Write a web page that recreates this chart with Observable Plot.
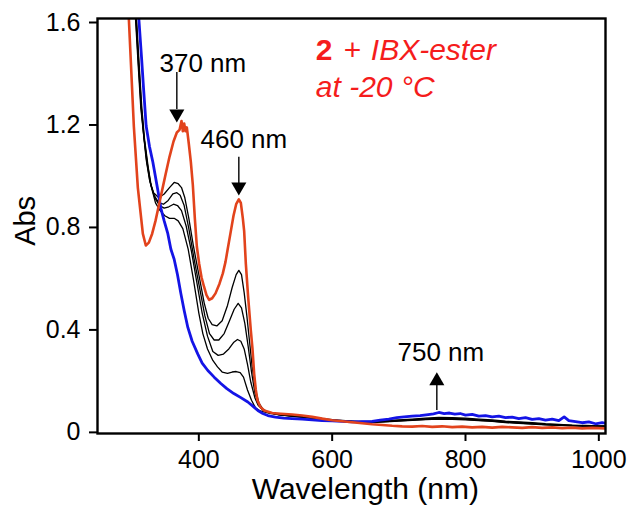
<!DOCTYPE html>
<html><head><meta charset="utf-8">
<script src="https://cdn.jsdelivr.net/npm/d3@7"></script>
<script src="https://cdn.jsdelivr.net/npm/@observablehq/plot@0.6"></script>
<style>html,body{margin:0;padding:0;background:#fff}svg{display:block}</style>
</head><body><div id="chart"></div>
<script>
// ---- axis ticks ----
const xTicks = [400, 600, 800, 1000];
const xTickLabels = ["400", "600", "800", "1000"];
const yTicks = [0, 0.4, 0.8, 1.2, 1.6];
const yTickLabels = ["0", "0.4", "0.8", "1.2", "1.6"];

// ---- red spectrum (2 + IBX-ester, final) ----
const redWl  = [290, 295, 302.5, 308.5, 316, 320.5, 325, 330, 335, 340, 345, 350, 356, 362, 367, 371, 374, 376, 378, 380, 382, 385, 388, 391, 394, 397, 400.5, 404, 408, 411.5, 415.5, 420, 425, 431, 436, 440, 443, 448, 452, 456, 460, 463, 466, 468, 470.5, 474, 478, 480.5, 483, 485.5, 488, 492, 498, 510, 523, 540, 555, 570, 585, 600, 615, 630, 645, 660, 675, 690, 705, 720, 735, 750, 765, 780, 795, 810, 825, 840, 855, 870, 885, 900, 915, 930, 945, 960, 975, 990, 1010];
const redAbs = [1.85, 1.6, 1.18, 0.94, 0.76, 0.714, 0.725, 0.76, 0.81, 0.87, 0.93, 0.99, 1.06, 1.12, 1.155, 1.165, 1.2, 1.16, 1.19, 1.16, 1.175, 1.11, 1.04, 0.95, 0.82, 0.71, 0.643, 0.59, 0.551, 0.52, 0.502, 0.508, 0.527, 0.565, 0.605, 0.65, 0.695, 0.77, 0.83, 0.875, 0.894, 0.88, 0.82, 0.77, 0.643, 0.512, 0.382, 0.31, 0.213, 0.15, 0.109, 0.085, 0.07, 0.06, 0.057, 0.054, 0.05, 0.045, 0.038, 0.032, 0.028, 0.024, 0.02, 0.016, 0.013, 0.01, 0.008, 0.007, 0.009, 0.006, 0.008, 0.005, 0.007, 0.004, 0.006, 0.003, 0.006, 0.004, 0.002, 0.005, 0.002, 0.004, 0.001, 0.003, 0.0, 0.002, 0.0];

// ---- blue spectrum (start) ----
const blueWl  = [305, 310, 314, 317, 321, 326, 331, 338.5, 343, 348, 353.5, 358, 363, 368, 373, 378, 383.5, 390, 398.5, 405, 413.5, 423, 433, 442, 452.5, 463, 473.5, 481, 488.5, 496, 503.5, 515, 527.5, 540, 555, 570, 585, 600, 615, 630, 645, 660, 672, 685, 697, 708, 720, 732, 744, 752, 760, 768, 776, 784, 792, 800, 810, 820, 830, 840, 850, 860, 870, 880, 890, 900, 910, 920, 930, 940, 948, 955, 965, 975, 985, 995, 1005, 1010];
const blueAbs = [1.8, 1.6, 1.45, 1.33, 1.18, 1.1, 1.04, 0.93, 0.86, 0.81, 0.76, 0.7, 0.66, 0.6, 0.527, 0.46, 0.394, 0.34, 0.29, 0.255, 0.226, 0.2, 0.175, 0.155, 0.136, 0.12, 0.103, 0.087, 0.07, 0.058, 0.05, 0.044, 0.04, 0.038, 0.036, 0.033, 0.03, 0.029, 0.027, 0.025, 0.026, 0.027, 0.032, 0.036, 0.042, 0.045, 0.048, 0.05, 0.054, 0.057, 0.062, 0.058, 0.06, 0.056, 0.058, 0.052, 0.055, 0.048, 0.05, 0.045, 0.048, 0.042, 0.044, 0.038, 0.042, 0.035, 0.038, 0.032, 0.036, 0.03, 0.045, 0.03, 0.026, 0.022, 0.025, 0.018, 0.022, 0.02];

// ---- black intermediate spectra ----
const black1Wl  = [300, 305, 309, 313, 317, 321, 326, 332, 340, 348, 356, 363, 369, 374, 379, 385, 392, 400, 408, 414, 420, 427, 435, 443, 450, 456, 460, 464, 468, 472, 476, 480, 485, 490, 496, 505, 520, 540, 560, 580, 600, 620, 640, 660, 680, 700, 720, 740, 760, 780, 800, 820, 840, 860, 880, 900, 920, 940, 960, 980, 1000, 1010];
const black1Abs = [1.85, 1.6, 1.42, 1.25, 1.15, 1.05, 0.97, 0.92, 0.9, 0.915, 0.94, 0.96, 0.955, 0.94, 0.9, 0.82, 0.71, 0.6, 0.49, 0.43, 0.405, 0.4, 0.42, 0.48, 0.55, 0.6, 0.617, 0.6, 0.53, 0.44, 0.34, 0.24, 0.15, 0.1, 0.075, 0.062, 0.055, 0.05, 0.046, 0.04, 0.034, 0.03, 0.027, 0.027, 0.03, 0.033, 0.036, 0.04, 0.043, 0.042, 0.04, 0.036, 0.033, 0.028, 0.025, 0.022, 0.018, 0.016, 0.013, 0.012, 0.01, 0.01];
const black2Wl  = [300, 305.5, 309.5, 313.5, 317.5, 322, 327, 333, 340, 347, 354, 361, 367, 372, 378, 385, 393, 401, 409, 416, 423, 430, 438, 446, 453, 459, 464, 469, 474, 479, 484, 489, 495, 505, 520, 540, 560, 580, 600, 620, 640, 660, 680, 700, 720, 740, 760, 780, 800, 820, 840, 860, 880, 900, 920, 940, 960, 980, 1000, 1010];
const black2Abs = [1.85, 1.6, 1.42, 1.25, 1.14, 1.04, 0.96, 0.91, 0.88, 0.875, 0.89, 0.915, 0.92, 0.91, 0.87, 0.78, 0.66, 0.55, 0.44, 0.37, 0.345, 0.345, 0.37, 0.42, 0.465, 0.488, 0.47, 0.41, 0.32, 0.22, 0.14, 0.095, 0.075, 0.062, 0.054, 0.049, 0.044, 0.038, 0.032, 0.028, 0.025, 0.026, 0.028, 0.031, 0.034, 0.037, 0.04, 0.039, 0.037, 0.033, 0.03, 0.026, 0.023, 0.02, 0.016, 0.014, 0.012, 0.01, 0.009, 0.009];
const black3Wl  = [300, 306, 310, 314, 318, 323, 328, 334, 341, 348, 355, 362, 368, 374, 381, 389, 397, 405, 413, 421, 429, 437, 445, 452, 458, 463, 468, 473, 478, 484, 489, 496, 505, 520, 540, 560, 580, 600, 620, 640, 660, 680, 700, 720, 740, 760, 780, 800, 820, 840, 860, 880, 900, 920, 940, 960, 980, 1000, 1010];
const black3Abs = [1.85, 1.6, 1.42, 1.25, 1.13, 1.03, 0.95, 0.9, 0.87, 0.86, 0.865, 0.875, 0.87, 0.85, 0.79, 0.69, 0.57, 0.45, 0.36, 0.3, 0.285, 0.29, 0.31, 0.335, 0.347, 0.34, 0.31, 0.25, 0.18, 0.12, 0.09, 0.072, 0.062, 0.054, 0.048, 0.043, 0.037, 0.031, 0.027, 0.024, 0.024, 0.026, 0.029, 0.032, 0.035, 0.038, 0.037, 0.035, 0.031, 0.028, 0.024, 0.021, 0.018, 0.015, 0.013, 0.011, 0.009, 0.008, 0.008];
const black4Wl  = [300, 306.5, 310.5, 314.5, 318.5, 324, 329, 335, 342, 349, 356, 363, 369, 376, 384, 392, 400, 406, 413, 421, 428, 435, 443, 450, 456, 462, 467, 473, 479, 485, 492, 505, 520, 540, 560, 580, 600, 620, 640, 660, 680, 700, 720, 740, 760, 780, 800, 820, 840, 860, 880, 900, 920, 940, 960, 980, 1000, 1010];
const black4Abs = [1.85, 1.6, 1.42, 1.25, 1.13, 1.02, 0.94, 0.88, 0.85, 0.83, 0.82, 0.82, 0.81, 0.78, 0.7, 0.58, 0.45, 0.37, 0.31, 0.265, 0.24, 0.22, 0.215, 0.22, 0.222, 0.218, 0.2, 0.15, 0.11, 0.08, 0.068, 0.06, 0.053, 0.047, 0.042, 0.036, 0.03, 0.026, 0.023, 0.023, 0.025, 0.028, 0.031, 0.034, 0.036, 0.035, 0.033, 0.03, 0.027, 0.023, 0.02, 0.017, 0.014, 0.012, 0.01, 0.009, 0.008, 0.008];

// ---- annotations (data coordinates) ----
const peakLabels = ["370 nm", "460 nm", "750 nm"];
const peakLabelX = [406, 467.5, 763];
const peakLabelY = [1.424, 1.126, 0.295];
const arrowX     = [367, 460, 757];
const arrowFrom  = [1.389, 1.058, 0.07];
const arrowTo    = [1.245, 0.952, 0.18];
const arrowHeadY = [1.228, 0.943, 0.185];
const arrowDir   = [180, 180, 0];

const titleParts = ["2", "+", "IBX-ester"];
const titleX = [575.5, 617.5, 658];
const titleY = 1.475;
const title2 = "at -20 °C";
const title2Y = 1.33;

// axis titles, placed in data coordinates (outside the frame)
const xTitle = "Wavelength (nm)";
const xTitlePos = [649.75, -0.238];
const yTitle = "Abs";
const yTitlePos = [141, 0.81];

function series(name, wl, ab) { return wl.map((w, i) => ({name, wl: w, abs: ab[i]})); }
const blacks = [
  ...series("b1", black1Wl, black1Abs),
  ...series("b2", black2Wl, black2Abs),
  ...series("b3", black3Wl, black3Abs),
  ...series("b4", black4Wl, black4Abs)
];
const blue = series("blue", blueWl, blueAbs);
const red = series("red", redWl, redAbs);
const labels = peakLabels.map((t, i) => ({t, x: peakLabelX[i], y: peakLabelY[i]}));
const arrows = arrowX.map((x, i) => ({x, y1: arrowFrom[i], y2: arrowTo[i], yh: arrowHeadY[i], rot: arrowDir[i]}));
const tparts = titleParts.map((t, i) => ({t, x: titleX[i], y: titleY}));

const RED_LINE = "#e2431c";
const RED_TEXT = "#f51c1c";

const chart = Plot.plot({
  width: 628, height: 516,
  marginLeft: 97, marginRight: 23, marginTop: 18, marginBottom: 83,
  style: {fontFamily: "'Liberation Sans', Arial, Helvetica, sans-serif", background: "#fff", color: "#000"},
  x: {domain: [248, 1010]},
  y: {domain: [-0.02, 1.6]},
  marks: [
    Plot.line(blacks, {x: "wl", y: "abs", z: "name", stroke: "#000", strokeWidth: 1.3, clip: true, curve: "linear"}),
    Plot.line(blue, {x: "wl", y: "abs", stroke: "#1414e6", strokeWidth: 2.8, clip: true}),
    Plot.line(red, {x: "wl", y: "abs", stroke: RED_LINE, strokeWidth: 2.6, clip: true}),
    Plot.frame({stroke: "#000", strokeWidth: 2.4}),
    Plot.axisX(xTicks, {tickSize: 8, tickPadding: 9, strokeWidth: 2, fontSize: 25, label: null,
      tickFormat: d => xTickLabels[xTicks.indexOf(d)]}),
    Plot.axisY(yTicks, {tickSize: 8, tickPadding: 9, strokeWidth: 2, fontSize: 25, dy: 4, label: null,
      tickFormat: d => yTickLabels[yTicks.indexOf(d)]}),
    Plot.text([xTitle], {x: xTitlePos[0], y: xTitlePos[1], fontSize: 30, fill: "#000"}),
    Plot.text([yTitle], {x: yTitlePos[0], y: yTitlePos[1], rotate: -90, fontSize: 29, fill: "#000"}),
    Plot.ruleX(arrows, {x: "x", y1: "y1", y2: "y2", stroke: "#000", strokeWidth: 1.4}),
    Plot.dot(arrows, {x: "x", y: "yh", symbol: "triangle", r: 5.6, rotate: "rot", fill: "#000", stroke: null}),
    Plot.text(labels, {x: "x", y: "y", text: "t", fontSize: 26, fill: "#000"}),
    Plot.text(tparts.slice(0, 1), {x: "x", y: "y", text: "t", fontSize: 30, fontWeight: "bold", fill: RED_TEXT, textAnchor: "start"}),
    Plot.text(tparts.slice(1, 2), {x: "x", y: "y", text: "t", fontSize: 30, fill: RED_TEXT, textAnchor: "start"}),
    Plot.text(tparts.slice(2), {x: "x", y: "y", text: "t", fontSize: 30, fontStyle: "italic", fill: RED_TEXT, textAnchor: "start"}),
    Plot.text([title2], {x: titleX[0], y: title2Y, fontSize: 30, fontStyle: "italic", fill: RED_TEXT, textAnchor: "start"})
  ]
});
document.getElementById("chart").appendChild(chart);
</script>
</body></html>
